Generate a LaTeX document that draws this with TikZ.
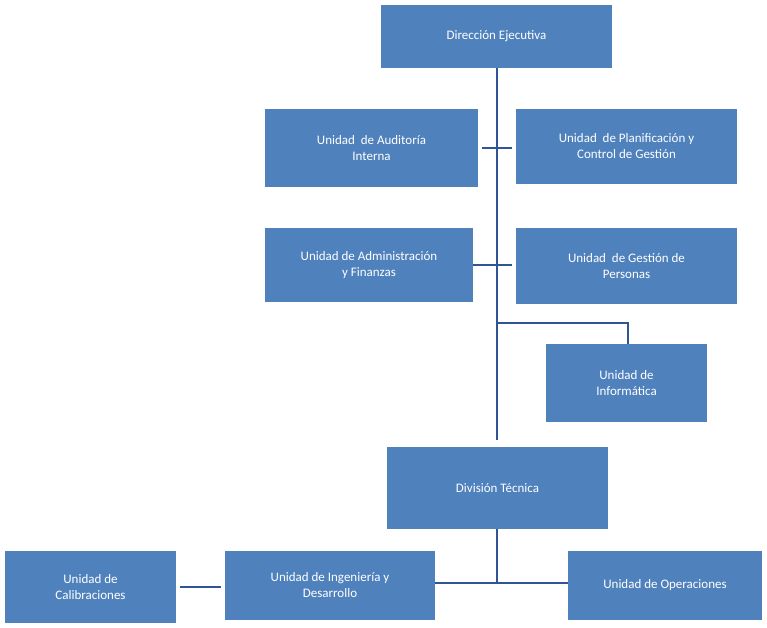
\documentclass[tikz,border=0pt]{standalone}
\usepackage{fontspec}
\setmainfont{Carlito}
\begin{document}
\begin{tikzpicture}[x=1pt,y=-1pt,
  box/.style={draw=none,fill={rgb,255:red,79;green,129;blue,189},text=white,font=\fontsize{13}{16}\selectfont,align=center,inner sep=0pt},
  ln/.style={draw={rgb,255:red,47;green,85;blue,151},line width=2.5pt}]
\useasboundingbox (0,0) rectangle (767,627);
\newcommand{\bx}[6]{\node[box,minimum width=#4-#2,minimum height=#5-#3] (#1) at ({(#2+#4)/2},{(#3+#5)/2}) {#6};}
\bx{dir}{381}{5}{612}{68}{Dirección Ejecutiva}
\bx{aud}{265}{109}{478}{187}{Unidad\ \ de Auditoría\\Interna}
\bx{pla}{516}{109}{737}{184}{Unidad\ \ de Planificación y\\Control de Gestión}
\bx{adm}{265}{228}{473}{302}{Unidad de Administración\\y Finanzas}
\bx{ges}{516}{228}{737}{304}{Unidad\ \ de Gestión de\\Personas}
\bx{inf}{546}{344}{707}{422}{Unidad de\\Informática}
\bx{div}{387}{447}{608}{529}{División Técnica}
\bx{cal}{5}{551}{176}{623}{Unidad de\\Calibraciones}
\bx{ing}{225}{551}{435}{620}{Unidad de Ingeniería y\\Desarrollo}
\bx{ope}{568}{551}{762}{620}{Unidad de Operaciones}
\coordinate (t1) at (497,440);
\coordinate (j1) at (497,323);
\coordinate (j2) at (497,583);
\draw[ln] (dir.south -| t1) -- (t1);
\draw[ln] (482,148) -- (512,148);
\draw[ln] (adm.east |- 0,265) -- (512,265);
\draw[ln] (j1) -| (inf.north -| 628,0);
\draw[ln] (div.south -| j2) -- (j2);
\draw[ln] (ing.east |- j2) -- (ope.west |- j2);
\draw[ln] (180,587) -- (221,587);
\end{tikzpicture}
\end{document}
